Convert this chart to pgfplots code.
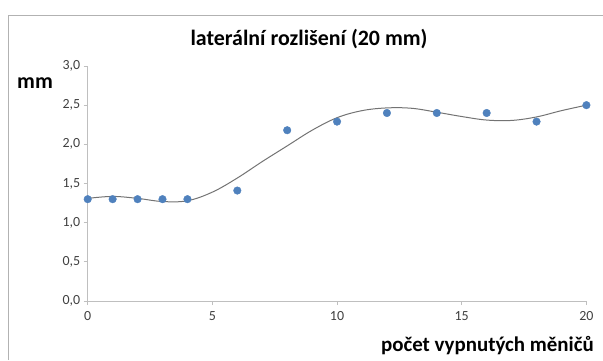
\documentclass[border=0pt]{standalone}
\usepackage{pgfplots}
\pgfplotsset{compat=1.18}
\usepackage{fontspec}
\setmainfont{Carlito}
\definecolor{excelblue}{HTML}{4F81BD}
\definecolor{axgray}{HTML}{BFBFBF}
\definecolor{ticktext}{HTML}{404040}
\begin{document}
\begin{tikzpicture}[x=1bp,y=1bp]
\path[use as bounding box] (0,0) rectangle (603,360);
\draw[color=axgray!80!gray, line width=0.8bp] (8,0) -- (8,345) -- (603,345);
\begin{axis}[
  at={(87.7bp,59bp)}, anchor=south west,
  scale only axis, width=498.7bp, height=235bp,
  xmin=0, xmax=20, ymin=0, ymax=3,
  axis lines=left, axis line style={draw=axgray, line width=0.8bp, -},
  xtick={0,5,10,15,20}, ytick={0,0.5,1,1.5,2,2.5,3},
  tick style={draw=axgray, line width=0.8bp},
  tick align=outside, major tick length=4bp,
  x tick label style={font=\fontsize{14}{16}\selectfont, text=ticktext, yshift=-3bp},
  y tick label style={font=\fontsize{14}{16}\selectfont, text=ticktext, /pgf/number format/.cd, fixed, fixed zerofill, precision=1, use comma},
  /pgf/number format/assume math mode=true,
  clip=false,
]
\addplot[color=gray!90!black, line width=1bp, smooth, tension=0.6] coordinates {
(0,1.31) (1,1.335) (2,1.31) (3,1.27) (4,1.28) (5,1.39) (6,1.57) (7,1.78) (8,1.98) (9,2.18) (10,2.34) (11,2.43) (12,2.465) (13,2.46) (14,2.41) (15,2.355) (16,2.31) (17,2.305) (18,2.35) (19,2.43) (20,2.5)
};
\addplot[only marks, mark=*, mark size=3.8bp, mark options={fill=excelblue, draw=excelblue}] coordinates {
(0,1.3) (1,1.3) (2,1.3) (3,1.3) (4,1.3) (6,1.41) (8,2.18) (10,2.29) (12,2.4) (14,2.4) (16,2.4) (18,2.29) (20,2.5)
};
\end{axis}
\node[font=\bfseries\fontsize{22}{26}\selectfont, anchor=base, inner sep=0pt] at (309,315) {laterální rozlišení (20 mm)};
\node[font=\bfseries\fontsize{22}{26}\selectfont, anchor=base west, inner sep=0pt] at (17,272) {mm};
\node[font=\bfseries\fontsize{21}{25}\selectfont, anchor=base east, inner sep=0pt] at (594,8.5) {počet vypnutých měničů};
\end{tikzpicture}
\end{document}
